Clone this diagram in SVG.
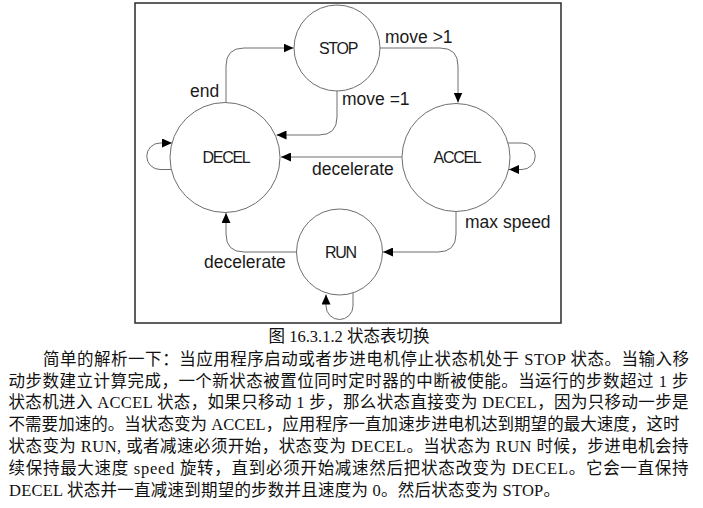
<svg xmlns="http://www.w3.org/2000/svg" width="703" height="508" viewBox="0 0 703 508">
<style>
.frame{fill:#fff;stroke:#2a2a2a;stroke-width:1.5}
.state{fill:#fff;stroke:#6e6e6e;stroke-width:1}
.sname{font-family:"Liberation Sans",Arial,sans-serif;font-size:16px;letter-spacing:-1.3px;fill:#1a1a1a;text-anchor:middle}
.edge{fill:none;stroke:#6e6e6e;stroke-width:1}
.elabel{font-family:"Liberation Sans",Arial,sans-serif;font-size:17.5px;fill:#1a1a1a}
.body{font-family:"Liberation Serif","Noto Sans CJK SC",serif;font-size:16.5px;fill:#111}
</style>
<defs>
<marker id="arr" markerUnits="userSpaceOnUse" markerWidth="10" markerHeight="9" refX="10" refY="4.5" orient="auto">
<path d="M0,0 L10,4.5 L0,9 z" fill="#000"/>
</marker>
</defs>
<rect class="frame" x="135" y="3" width="426" height="320"/>
<g id="connectors">
<path class="edge" marker-end="url(#arr)" d="M226,102.5 V66 Q226,48 244,48 H293.5"/>
<path class="edge" marker-end="url(#arr)" d="M380,48 H440 Q458,48 458,66 V102.5"/>
<path class="edge" marker-end="url(#arr)" d="M337,91 V117 Q337,135 319,135 H276.5"/>
<path class="edge" marker-end="url(#arr)" d="M402,157 H281"/>
<path class="edge" marker-end="url(#arr)" d="M456,212 V234 Q456,252 438,252 H383"/>
<path class="edge" marker-end="url(#arr)" d="M297,252 H244 Q226,252 226,234 V213"/>
<path class="edge" marker-end="url(#arr)" d="M171,169.5 H160 A13.25,13.25 0 0 1 160,143 H172"/>
<path class="edge" marker-end="url(#arr)" d="M508,143 H522 A13.25,13.25 0 0 1 522,169.5 H509"/>
<path class="edge" marker-end="url(#arr)" d="M353,293 V306 A13.5,13.5 0 0 1 326,306 V294.5"/>
</g>
<g id="edge-labels">
<text class="elabel" x="385" y="43">move &gt;1</text>
<text class="elabel" x="190" y="97">end</text>
<text class="elabel" x="342" y="105">move =1</text>
<text class="elabel" x="312" y="175">decelerate</text>
<text class="elabel" x="465" y="228">max speed</text>
<text class="elabel" x="204" y="268">decelerate</text>
</g>
<g id="node-stop">
<circle class="state" cx="337" cy="48" r="43"/>
<text class="sname" x="338" y="53.5">STOP</text>
</g>
<g id="node-decel">
<circle class="state" cx="225" cy="157.5" r="55"/>
<text class="sname" x="226" y="163.3">DECEL</text>
</g>
<g id="node-accel">
<circle class="state" cx="456" cy="157.5" r="54"/>
<text class="sname" x="457" y="163.3">ACCEL</text>
</g>
<g id="node-run">
<circle class="state" cx="339.5" cy="252" r="43"/>
<text class="sname" x="340.5" y="258">RUN</text>
</g>
<g id="caption">
<text class="body" x="349" y="341.5" text-anchor="middle">图 16.3.1.2 状态表切换</text>
<text class="body" x="43" y="364.5" textLength="646" lengthAdjust="spacing">简单的解析一下：当应用程序启动或者步进电机停止状态机处于 STOP 状态。当输入移</text>
<text class="body" x="8.5" y="386.5" textLength="680" lengthAdjust="spacing">动步数建立计算完成，一个新状态被置位同时定时器的中断被使能。当运行的步数超过 1 步</text>
<text class="body" x="8.5" y="408" textLength="680" lengthAdjust="spacing">状态机进入 ACCEL 状态，如果只移动 1 步，那么状态直接变为 DECEL，因为只移动一步是</text>
<text class="body" x="8.5" y="430" textLength="671" lengthAdjust="spacing">不需要加速的。当状态变为 ACCEL，应用程序一直加速步进电机达到期望的最大速度，这时</text>
<text class="body" x="8.5" y="452" textLength="680" lengthAdjust="spacing">状态变为 RUN, 或者减速必须开始，状态变为 DECEL。当状态为 RUN 时候，步进电机会持</text>
<text class="body" x="8.5" y="474" textLength="680" lengthAdjust="spacing">续保持最大速度 speed 旋转，直到必须开始减速然后把状态改变为 DECEL。它会一直保持</text>
<text class="body" x="9" y="495.8" textLength="551" lengthAdjust="spacing">DECEL 状态并一直减速到期望的步数并且速度为 0。然后状态变为 STOP。</text>
</g>
</svg>
